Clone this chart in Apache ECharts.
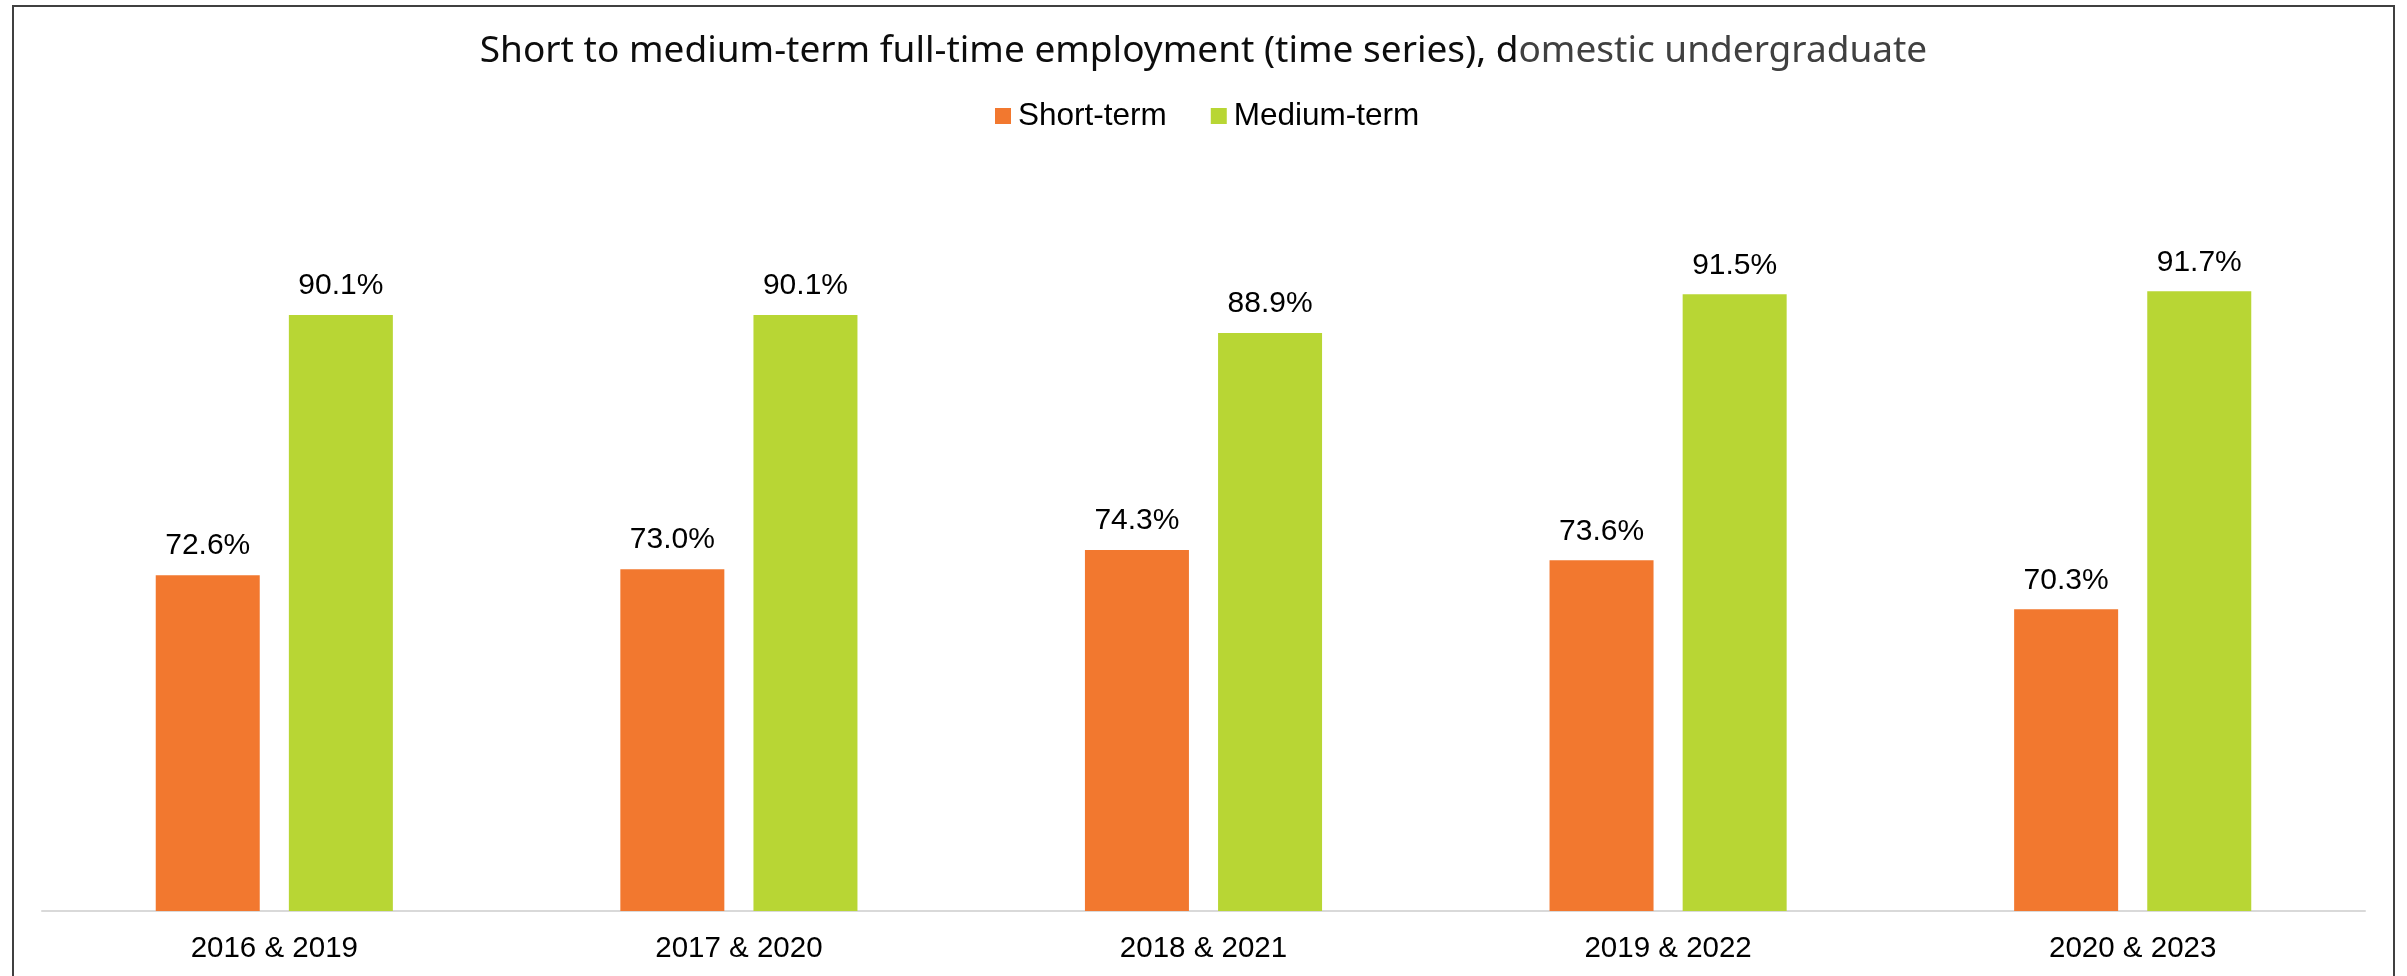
<!DOCTYPE html>
<html>
<head>
<meta charset="utf-8">
<title>Short to medium-term full-time employment</title>
<script src="https://cdn.jsdelivr.net/npm/echarts@6/dist/echarts.min.js"></script>
<style>
  html, body { margin: 0; padding: 0; background: #ffffff; }
  #chart { width: 2407px; height: 976px; }
</style>
</head>
<body>
<div id="chart"></div>
<script>
// Graduate cohorts: short-term survey year & medium-term survey year
const categories = ['2016 & 2019', '2017 & 2020', '2018 & 2021', '2019 & 2022', '2020 & 2023'];
// Full-time employment rates (%)
const shortTerm = [72.6, 73.0, 74.3, 73.6, 70.3];
const mediumTerm = [90.1, 90.1, 88.9, 91.5, 91.7];

const seriesNames = ['Short-term', 'Medium-term'];
const colors = ['#F2782F', '#B8D634'];
const labelFont = '"Liberation Sans", Arial, Helvetica, sans-serif';
const titleFont = '"Noto Sans", "Open Sans", sans-serif';

const chart = echarts.init(document.getElementById('chart'), null, { renderer: 'canvas' });

const valueLabel = {
  show: true,
  position: 'top',
  distance: 14,
  color: '#000000',
  fontSize: 30,
  fontFamily: labelFont,
  formatter: p => p.value.toFixed(1) + '%'
};

chart.setOption({
  backgroundColor: '#ffffff',
  animation: false,
  color: colors,
  title: {
    text: '{a|Short to medium-term full-time employment (time series), d}{b|omestic undergraduate}',
    left: 'center',
    top: 28,
    textStyle: {
      fontWeight: 'normal',
      rich: {
        a: { fontFamily: titleFont, fontSize: 37, fontWeight: 'normal', color: '#0d0d0d' },
        b: { fontFamily: titleFont, fontSize: 37, fontWeight: 'normal', color: '#404040' }
      }
    }
  },
  legend: {
    data: seriesNames,
    left: 995,
    top: 100,
    padding: 0,
    icon: 'rect',
    itemWidth: 16,
    itemHeight: 16,
    itemGap: 44,
    textStyle: {
      fontFamily: labelFont,
      fontSize: 31.5,
      color: '#000000',
      padding: [0, 0, 0, 2]
    }
  },
  grid: {
    left: 42,
    right: 42,
    top: 168,
    bottom: 65,
    containLabel: false
  },
  xAxis: {
    type: 'category',
    data: categories,
    axisLine: { show: true, lineStyle: { color: '#d9d9d9', width: 2 } },
    axisTick: { show: false },
    axisLabel: {
      margin: 23,
      color: '#000000',
      fontSize: 29.5,
      fontFamily: labelFont
    }
  },
  yAxis: {
    type: 'value',
    min: 50,
    max: 100,
    show: false,
    splitLine: { show: false }
  },
  series: [
    {
      name: seriesNames[0],
      type: 'bar',
      data: shortTerm,
      barWidth: 104,
      barGap: '28%',
      itemStyle: { color: colors[0] },
      label: valueLabel
    },
    {
      name: seriesNames[1],
      type: 'bar',
      data: mediumTerm,
      barWidth: 104,
      barGap: '28%',
      itemStyle: { color: colors[1] },
      label: valueLabel
    }
  ],
  graphic: [
    {
      type: 'rect',
      silent: true,
      z: 100,
      shape: { x: 13, y: 6, width: 2381, height: 1000 },
      style: { fill: 'none', stroke: '#404040', lineWidth: 2 }
    }
  ]
});
</script>
</body>
</html>
